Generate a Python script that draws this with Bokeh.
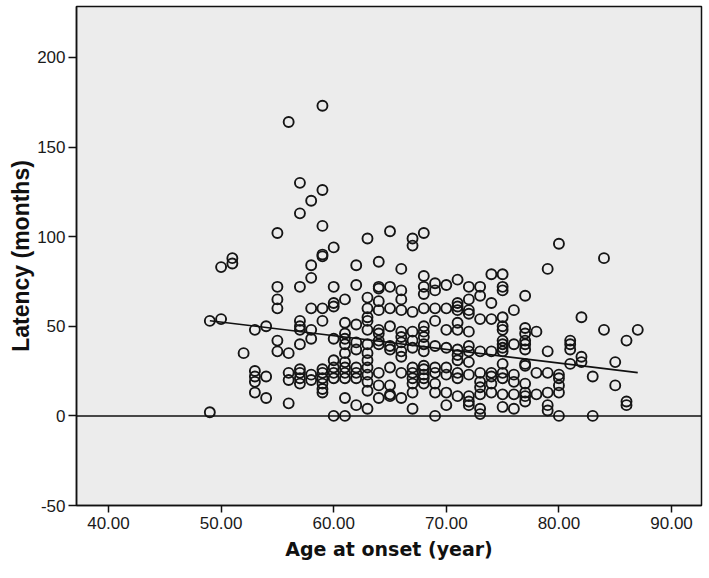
from bokeh.plotting import figure
from bokeh.models import Range1d, FixedTicker, PrintfTickFormatter, Span, ColumnDataSource
from bokeh.embed import file_html
from bokeh.resources import INLINE

# Data: age at onset (years) -> latency (months)
pts_by_age = {
    49: [53, 2],
    50: [83, 54],
    51: [88, 85],
    52: [35],
    53: [48, 25, 22, 19, 13],
    54: [50, 22, 10],
    55: [102, 72, 65, 60, 42, 36],
    56: [164, 35, 24, 20, 7],
    57: [130, 113, 72, 53, 50, 48, 40, 26, 24, 21, 18],
    58: [120, 84, 77, 60, 48, 43, 23, 20],
    59: [173, 126, 106, 90, 89, 60, 53, 26, 24, 21, 18, 15, 13],
    60: [94, 72, 63, 61, 43, 31, 27, 24, 21, 0],
    61: [65, 52, 46, 43, 40, 35, 30, 27, 24, 21, 10, 0],
    62: [84, 73, 51, 41, 37, 27, 24, 21, 6],
    63: [99, 66, 60, 55, 53, 48, 40, 35, 31, 27, 23, 19, 14, 4],
    64: [86, 72, 71, 64, 59, 48, 46, 42, 40, 24, 17, 10],
    65: [103, 72, 60, 50, 39, 37, 27, 17, 12, 11],
    66: [82, 70, 65, 59, 47, 44, 41, 36, 33, 24, 10],
    67: [99, 95, 58, 47, 42, 38, 27, 24, 21, 18, 13, 4],
    68: [102, 78, 72, 68, 60, 50, 47, 44, 40, 36, 28, 26, 23, 21, 18],
    69: [74, 70, 60, 53, 39, 27, 24, 18, 13, 0],
    70: [73, 60, 48, 38, 27, 23, 13, 6],
    71: [76, 63, 61, 59, 52, 48, 37, 34, 31, 24, 21, 11],
    72: [72, 65, 59, 57, 47, 39, 36, 30, 23, 11, 8, 6],
    73: [72, 67, 54, 36, 24, 19, 16, 12, 4, 1],
    74: [79, 63, 54, 36, 24, 22, 18, 13],
    75: [79, 72, 70, 55, 50, 48, 42, 40, 38, 36, 29, 24, 21, 12, 5],
    76: [59, 40, 23, 19, 12, 4],
    77: [67, 49, 46, 42, 40, 37, 29, 28, 18, 13, 11, 8],
    78: [47, 24, 12],
    79: [82, 36, 24, 13, 6, 3],
    80: [96, 23, 21, 17, 13, 0],
    81: [42, 40, 37, 29],
    82: [55, 33, 30],
    83: [22, 0],
    84: [88, 48],
    85: [30, 17],
    86: [42, 8, 6],
    87: [48],
}

age = [a for a, vals in pts_by_age.items() for _ in vals]
latency = [v for a, vals in pts_by_age.items() for v in vals]

# Fit line
fit_intercept = 90.5
fit_slope = -0.763

x_ticks = [40, 50, 60, 70, 80, 90]
y_ticks = [-50, 0, 50, 100, 150, 200]

p = figure(width=703, height=572,
           x_range=Range1d(37.16, 92.66), y_range=Range1d(-50, 228.4),
           output_backend="svg", toolbar_location=None,
           min_border_left=76, min_border_right=2,
           min_border_top=6, min_border_bottom=67)

p.background_fill_color = "#ececec"
p.border_fill_color = "white"
p.outline_line_color = "#111111"
p.outline_line_width = 1.5
p.xgrid.visible = False
p.ygrid.visible = False

p.xaxis.ticker = FixedTicker(ticks=x_ticks)
p.yaxis.ticker = FixedTicker(ticks=y_ticks)
p.xaxis.formatter = PrintfTickFormatter(format="%.2f")
p.yaxis.formatter = PrintfTickFormatter(format="%d")

for ax in (p.xaxis[0], p.yaxis[0]):
    ax.axis_line_color = "#111111"
    ax.axis_line_width = 1.5
    ax.major_tick_line_color = "#111111"
    ax.major_tick_line_width = 1.5
    ax.major_tick_in = 0
    ax.minor_tick_line_color = None
    ax.major_label_text_font = "Liberation Sans"
    ax.major_label_text_font_size = "17px"
    ax.major_label_text_color = "#1a1a1a"
    ax.axis_label_text_font_style = "bold"
    ax.axis_label_text_color = "#111111"

p.xaxis.major_tick_out = 7
p.yaxis.major_tick_out = 8
p.xaxis.major_label_standoff = 4
p.yaxis.major_label_standoff = 3

p.xaxis.axis_label = "Age at onset (year)"
p.xaxis.axis_label_text_font = "DejaVu Sans"
p.xaxis.axis_label_text_font_size = "19px"
p.xaxis.axis_label_standoff = 6

p.yaxis.axis_label = "Latency (months)"
p.yaxis.axis_label_text_font = "Liberation Sans"
p.yaxis.axis_label_text_font_size = "23px"
p.yaxis.axis_label_standoff = 0

p.add_layout(Span(location=0, dimension="width", line_color="#111111", line_width=1.5))

src = ColumnDataSource(dict(age=age, latency=latency))
p.scatter(x="age", y="latency", source=src, marker="circle", size=10,
          fill_color=None, line_color="#151515", line_width=1.9)

fx = [min(age), max(age)]
fy = [fit_intercept + fit_slope * v for v in fx]
p.line(fx, fy, line_color="#111111", line_width=1.6)

open("out.html", "w").write(file_html(p, INLINE))
